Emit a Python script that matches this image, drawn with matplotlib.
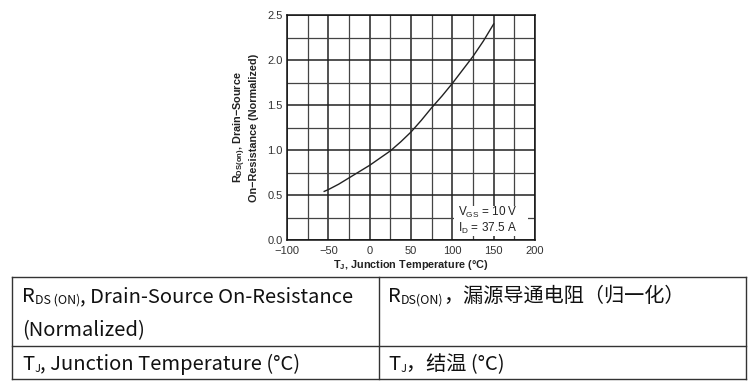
import matplotlib
matplotlib.use("Agg")
import matplotlib.pyplot as plt
from matplotlib.patches import Rectangle
from matplotlib.lines import Line2D

# ---- data ----
temp_c = [-55, -50, -37.5, -25, -12.5, 0, 12.5, 25, 37.5, 50, 62.5, 75, 87.5, 100, 112.5, 125, 137.5, 150]
rds_norm = [0.54, 0.56, 0.62, 0.69, 0.76, 0.83, 0.91, 0.99, 1.09, 1.20, 1.33, 1.47, 1.60, 1.74, 1.89, 2.04, 2.21, 2.40]
x_ticks = [-100, -50, 0, 50, 100, 150, 200]
y_ticks = [0.0, 0.5, 1.0, 1.5, 2.0, 2.5]

W, H = 753, 389
plt.rcParams['mathtext.fontset'] = 'custom'
plt.rcParams['mathtext.rm'] = 'Liberation Sans'
plt.rcParams['mathtext.bf'] = 'Liberation Sans:bold'
plt.rcParams['mathtext.it'] = 'Liberation Sans:italic'
plt.rcParams['font.family'] = ['Liberation Sans', 'DejaVu Sans']

fig = plt.figure(figsize=(W / 100, H / 100), dpi=100)
fig.patch.set_facecolor('white')

def fx(px):
    return px / W

def fy(py):
    return 1 - py / H

ax = fig.add_axes([fx(287), fy(240), fx(535) - fx(287), fy(15) - fy(240)])
ax.set_xlim(-100, 200)
ax.set_ylim(0, 2.5)
ax.set_xticks(x_ticks)
ax.set_yticks(y_ticks)
ax.set_xticks([v + 25 for v in x_ticks[:-1]], minor=True)
ax.set_yticks([v + 0.25 for v in y_ticks[:-1]], minor=True)
ax.set_xticklabels([f"{v}".replace('-', '\u2212') for v in x_ticks], fontsize=8, color='#333333')
ax.set_yticklabels([f"{v:.1f}" for v in y_ticks], fontsize=8, color='#333333')
ax.tick_params(which='both', length=0)
ax.tick_params(axis='x', pad=4)
ax.tick_params(axis='y', pad=3)
ax.grid(which='major', color='#222222', linewidth=1.1)
ax.grid(which='minor', color='#444444', linewidth=0.9)
ax.set_axisbelow(True)
for s in ax.spines.values():
    s.set_color('#111111')
    s.set_linewidth(1.1)

ax.plot(temp_c, rds_norm, color='#222222', linewidth=1.0, zorder=3)

ax.add_patch(Rectangle((102, 0.04), 90, 0.34, facecolor='white', edgecolor='none', zorder=2.5))
ax.text(107, 0.27, r"V$_{\mathrm{GS}}$ = 10 V", fontsize=8.5, color='#222222', zorder=4)
ax.text(107, 0.085, r"I$_{\mathrm{D}}$ = 37.5 A", fontsize=8.5, color='#222222', zorder=4)

ax.set_xlabel(r"$\mathbf{T_J}$, Junction Temperature (°C)", fontsize=7.8, fontweight='bold',
              color='#222222', labelpad=2)
ax.set_ylabel(r"$\mathbf{R_{DS(on)}}$, Drain" + "\u2212Source\nOn\u2212Resistance (Normalized)",
              fontsize=7.8, fontweight='bold', color='#222222', labelpad=6, linespacing=1.1)

# ---- table ----
line_kw = dict(color='#333333', linewidth=1.0, transform=fig.transFigure)
for y in (277, 346, 379):
    fig.add_artist(Line2D([fx(12), fx(746)], [fy(y), fy(y)], **line_kw))
for x in (12, 379, 746):
    fig.add_artist(Line2D([fx(x), fx(x)], [fy(277), fy(379)], **line_kw))

renderer = fig.canvas.get_renderer()
FAM = ['Noto Sans CJK SC', 'Noto Sans', 'DejaVu Sans']
BASE = 14.5

def rich(x, y, segs):
    cx = x
    for txt, size, dy in segs:
        t = fig.text(fx(cx), fy(y + dy), txt, fontsize=size, family=FAM, va='baseline',
                     ha='left', color='#111111')
        bb = t.get_window_extent(renderer)
        cx += bb.width

rich(22, 302, [("R", BASE, 0), ("DS (ON)", BASE * 0.62, 2), (", Drain-Source On-Resistance", BASE, 0)])
rich(22, 336, [("(Normalized)", BASE, 0)])
rich(22, 370, [("T", BASE, 0), ("J", BASE * 0.55, 2), (", Junction Temperature (°C)", BASE, 0)])
rich(388, 302, [("R", BASE, 0), ("DS(ON)", BASE * 0.62, 2), ("，漏源导通电阻（归一化）", BASE, 0)])
rich(388, 370, [("T", BASE, 0), ("J", BASE * 0.55, 2), ("，结温 (°C)", BASE, 0)])

fig.savefig("out.png", dpi=100, facecolor='white')
